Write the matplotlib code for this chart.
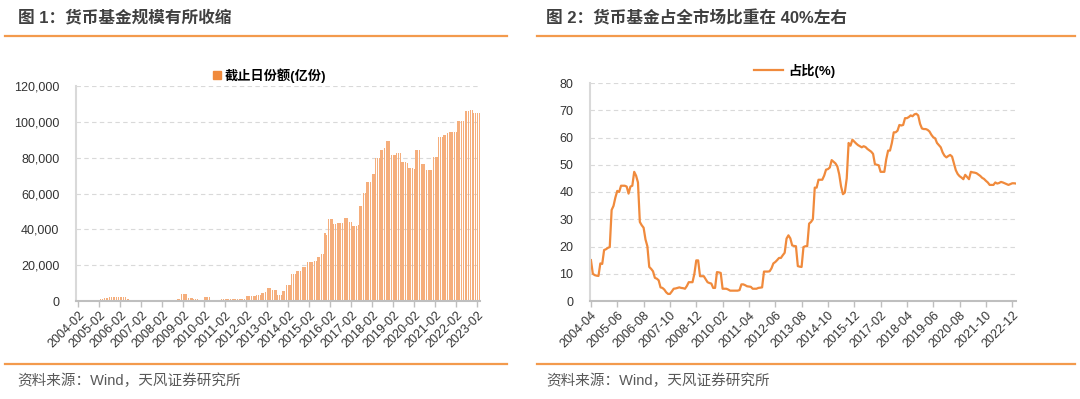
import numpy as np
import matplotlib
matplotlib.use("Agg")
import matplotlib.pyplot as plt
from matplotlib.ticker import FuncFormatter
from matplotlib.lines import Line2D
from matplotlib.patches import Rectangle

plt.rcParams['font.family'] = ['Liberation Sans', 'Noto Sans CJK SC', 'DejaVu Sans']

# ---- data: money fund shares (亿份), monthly from 2004-02 ----
fund_shares = [
    300, 300, 320, 330, 340, 350, 350, 360, 370, 380, 400, 400, 800,          # 2004-02 .. 2005-02
    1300, 1300, 1700, 1700, 1700, 2000, 2000, 2000, 2000, 2000, 2000, 2000,    # .. 2006-02
    2260, 2260, 2260, 940, 900, 700, 400, 200, 200, 200, 200, 200,             # .. 2007-02
    200, 200, 200, 200, 200, 200, 200, 200, 200, 750, 750, 750,                # .. 2008-02
    750, 750, 750, 750, 750, 750, 750, 750, 940, 940, 3770, 3770,              # .. 2009-02
    3770, 3770, 1900, 1900, 1900, 1300, 1300, 1300, 400, 400, 400, 2260,       # .. 2010-02
    2260, 2260, 2260, 750, 750, 750, 750, 750, 750, 1300, 1300, 1300,          # .. 2011-02
    1300, 1300, 1300, 1300, 1300, 940, 940, 940, 940, 940, 940, 2640,          # .. 2012-02
    2640, 2640, 2640, 2640, 2640, 3600, 3600, 3600, 4300, 4300, 4900, 7000,    # .. 2013-02
    7500, 7500, 6400, 6400, 6400, 3200, 3200, 3200, 5660, 5660, 8800, 8800,    # .. 2014-02
    8800, 15300, 15300, 15300, 16800, 16800, 16800, 19000, 19000, 19000, 21500, 21500,  # .. 2015-02
    21500, 21500, 22400, 22400, 24700, 24700, 26000, 26000, 37750, 36800, 45600, 45600,  # .. 2016-02
    45600, 43000, 43000, 43400, 43400, 43400, 43400, 46200, 46200, 46200, 44300, 44300,  # .. 2017-02
    41900, 41900, 41900, 42400, 53100, 53100, 60200, 60200, 66200, 66200, 66200, 71000,  # .. 2018-02
    71000, 79800, 79800, 79800, 84500, 84500, 85400, 89500, 89500, 89500, 81700, 81700,  # .. 2019-02
    81700, 82600, 82600, 82600, 77400, 77400, 77400, 77000, 74200, 74200, 74200, 73600,  # .. 2020-02
    84500, 84500, 84500, 76600, 76600, 76600, 72900, 72900, 72900, 72900, 80400, 80400,  # .. 2021-02
    80400, 91400, 91400, 91400, 92900, 92900, 93800, 94400, 94400, 94400, 94400, 94400,  # .. 2022-02
    100200, 100200, 100200, 100200, 106000, 106000, 106000, 106500, 106500, 104700, 104700, 104700,  # .. 2023-01
    104700,                                                                    # 2023-02
]
fund_years = list(range(2004, 2024))

# ---- data: share of money funds in the whole market (%), monthly from 2004-04 ----
mmf_ratio = [
    15, 10, 9.5, 9.3, 9.2, 13.8, 13.6, 18.7, 19.0, 19.5, 19.8, 33.4,
    34.9, 38, 40.4, 40.0, 42.3, 42.3, 42.3, 42.0, 39.4, 42, 42.3, 47.4,
    46, 43.5, 29, 27.8, 26.9, 22.6, 20.1, 12.5, 11.8, 10.9, 8.5, 8.2,
    7.6, 5, 4.8, 4.2, 3.2, 2.6, 2.6, 3.5, 4.5, 4.6, 4.8, 5.0,
    4.8, 4.7, 4.5, 5.5, 6.9, 6.9, 6.9, 10, 14.9, 14.9, 9.1, 9.1,
    9.1, 8, 6.9, 6.6, 6.4, 4.8, 4.8, 10.6, 10.5, 10.3, 4.5, 4.5,
    4.5, 4.2, 3.8, 3.8, 3.8, 3.8, 3.8, 4, 6.1, 6.1, 5.8, 5.4,
    5.3, 5.2, 4.5, 4.5, 4.5, 4.8, 4.9, 5, 10.8, 10.8, 10.8, 10.9,
    12, 13.8, 14.3, 15, 15.8, 15.8, 16.8, 17.7, 22.9, 24.1, 23, 20.4,
    20.2, 20.1, 12.8, 12.6, 12.5, 19.8, 20.1, 20.1, 28.4, 29, 30, 41.6,
    41.6, 44.5, 44.5, 44.5, 46, 48.2, 48.4, 49, 51.7, 51.1, 50.5, 49.4,
    46.5, 42, 39.2, 39.8, 45, 58, 57, 59.2, 58.5, 57.8, 57.2, 56.8,
    56.4, 56.8, 56.5, 55.8, 55.3, 54.8, 54, 50.2, 50, 49.8, 47.4, 47.4,
    47.4, 52, 55.2, 55.2, 58, 61.9, 61.9, 62.5, 64.6, 64.4, 64.6, 67.1,
    67.1, 67.5, 68.1, 67.8, 68.5, 68.7, 68.1, 65, 63.3, 63.1, 63.1, 62.8,
    62.2, 61, 60.1, 59.7, 58, 57.2, 56.4, 54.5, 53.3, 52.7, 53.2, 53.6,
    53, 50.5, 48, 46.6, 45.8, 45.3, 44.7, 46.3, 45.5, 44.7, 47.4, 47.2,
    47.1, 46.9, 46.4, 45.9, 45.2, 44.8, 44.1, 43.5, 42.6, 42.6, 42.6, 43.5,
    43.1, 43.3, 43.7, 43.5, 43.2, 42.9, 42.6, 42.9, 43.2, 43.2, 43.1,
]
ratio_ticks = ["2004-04", "2005-06", "2006-08", "2007-10", "2008-12", "2010-02",
               "2011-04", "2012-06", "2013-08", "2014-10", "2015-12", "2017-02",
               "2018-04", "2019-06", "2020-08", "2021-10", "2022-12"]

ORANGE = "#F08A3C"
BAR_C = "#F5AE7C"
GRID = "#D9D9D9"
AXC = "#BFBFBF"
TXT = "#404040"

W, H = 1080, 399
fig = plt.figure(figsize=(W / 100, H / 100), dpi=100)


def px_axes(x0, y0, x1, y1):
    # pixel box (top-left origin) -> figure axes
    return fig.add_axes([x0 / W, 1 - y1 / H, (x1 - x0) / W, (y1 - y0) / H])


def style(ax):
    for s in ["top", "right"]:
        ax.spines[s].set_visible(False)
    ax.spines["left"].set_color(GRID)
    ax.spines["left"].set_linewidth(1.5)
    ax.spines["bottom"].set_color(AXC)
    ax.spines["bottom"].set_linewidth(1.5)
    ax.tick_params(axis="y", length=0, labelsize=9, colors="#333333", pad=12)
    ax.tick_params(axis="x", length=4, width=1, color=AXC, labelsize=9,
                   labelcolor="#333333", pad=2)
    ax.yaxis.grid(True, color=GRID, linestyle=(0, (4, 3)), linewidth=0.8)
    ax.set_axisbelow(True)
    for lab in ax.get_xticklabels():
        lab.set_rotation(45)
        lab.set_ha("right")
        lab.set_va("top")
        lab.set_rotation_mode("anchor")


# ---- left chart ----
ax1 = px_axes(76, 86, 480, 301)
x1 = np.arange(len(fund_shares))
ax1.bar(x1, fund_shares, width=0.7, color=BAR_C, linewidth=0)
ax1.set_xlim(-1.2, 229.5)
ax1.set_ylim(0, 120000)
ax1.set_yticks(np.arange(0, 120001, 20000))
ax1.yaxis.set_major_formatter(FuncFormatter(lambda v, p: f"{int(v):,}"))
ax1.set_xticks([12 * i for i in range(len(fund_years))])
ax1.set_xticklabels([f"{y}-02" for y in fund_years])
style(ax1)
ax1.legend(handles=[Rectangle((0, 0), 1, 1, color=ORANGE)], labels=["截止日份额(亿份)"],
           loc="lower center", bbox_to_anchor=(0.48, 0.972), frameon=False,
           handlelength=0.6, handleheight=0.6, handletextpad=0.3,
           prop={"weight": "bold", "size": 9.5}, borderpad=0.2)

# ---- right chart ----
ax2 = px_axes(590, 83, 1016, 301)
x2 = np.arange(len(mmf_ratio))
ax2.plot(x2, mmf_ratio, color=ORANGE, linewidth=1.6)
ax2.set_xlim(-0.5, 226)
ax2.set_ylim(0, 80)
ax2.set_yticks(np.arange(0, 81, 10))
ax2.set_xticks([14 * i for i in range(len(ratio_ticks))])
ax2.set_xticklabels(ratio_ticks)
style(ax2)
ax2.legend(handles=[Line2D([0], [0], color=ORANGE, lw=1.6)], labels=["占比(%)"],
           loc="lower center", bbox_to_anchor=(0.48, 0.982), frameon=False,
           handlelength=2.2, handletextpad=0.4,
           prop={"weight": "bold", "size": 9.5}, borderpad=0.2)

# ---- titles, rules and sources ----
fig.text(18 / W, 1 - 18 / H, "图 1：货币基金规模有所收缩", fontsize=12, weight="bold",
         color=TXT, va="center", ha="left")
fig.text(546 / W, 1 - 18 / H, "图 2：货币基金占全市场比重在 40%左右", fontsize=12,
         weight="bold", color=TXT, va="center", ha="left")
for xa, xb in [(5, 507), (537, 1075)]:
    for yy in (36, 364):
        fig.add_artist(Line2D([xa / W, xb / W], [1 - yy / H, 1 - yy / H],
                              color="#F39A4C", linewidth=1.6))
fig.text(17 / W, 1 - 381 / H, "资料来源：Wind，天风证券研究所", fontsize=10.5,
         color="#595959", va="center", ha="left")
fig.text(546 / W, 1 - 381 / H, "资料来源：Wind，天风证券研究所", fontsize=10.5,
         color="#595959", va="center", ha="left")

fig.savefig("out.png", dpi=100)
